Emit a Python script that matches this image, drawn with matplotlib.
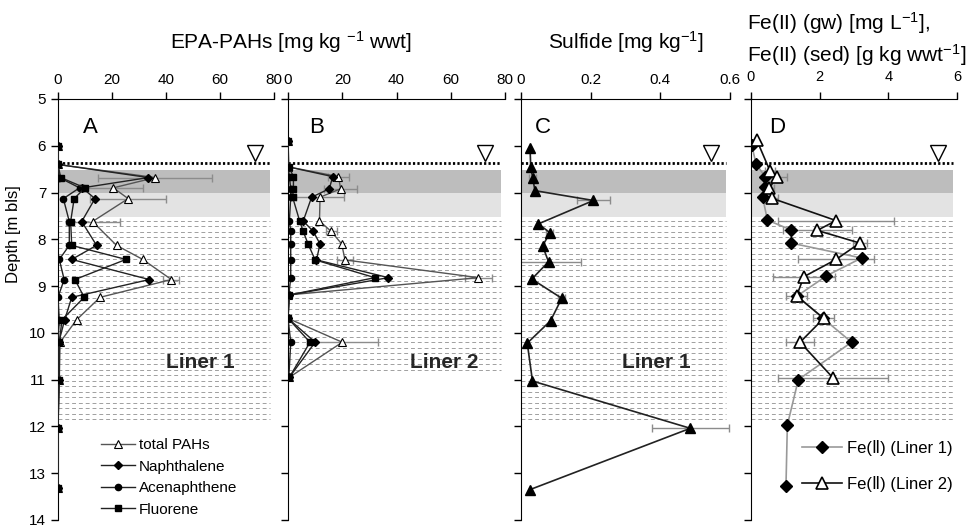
import numpy as np
import matplotlib.pyplot as plt

plt.rcParams['font.family'] = ['Liberation Sans', 'DejaVu Sans']
plt.rcParams['mathtext.default'] = 'regular'

# ---- Panel A: EPA-PAHs, Liner 1 [mg kg-1 wwt] ----
depth_a = [6.0, 6.4, 6.68, 6.9, 7.13, 7.62, 8.13, 8.43, 8.86, 9.24, 9.72, 10.2, 11.0, 12.03, 13.32]
total_a = [0, 0, 36, 20.5, 26, 12.8, 21.7, 31.4, 42, 15.6, 6.9, 0.8, 0.5, 0, 0]
total_a_err = [0, 0, 21, 11, 14, 10, 0, 0, 3, 0, 0, 0, 0, 0, 0]
naph_a = [0, 0, 33.5, 9, 13.7, 8.8, 14.3, 5.1, 33.8, 5.1, 2.5, 0.3, 0.3, 0, 0]
acen_a = [0, 0, 0.5, 8, 2, 4.2, 4.2, 0.5, 2.3, 0, 0.5, 0, 0, 0, 0]
fluo_a = [0, 0, 1, 10, 6, 4.7, 5.1, 25.2, 6.3, 9.7, 1.5, 0.5, 0.5, 0, 0]

# ---- Panel B: EPA-PAHs, Liner 2 ----
depth_b = [5.9, 6.45, 6.66, 6.92, 7.1, 7.61, 7.83, 8.1, 8.44, 8.82, 9.19, 9.69, 10.2, 10.95]
total_b = [0, 0, 18.6, 19.4, 11.8, 11.6, 15.9, 19.8, 21, 70.2, 0, 0, 20, 0.5]
total_b_err = [0, 0, 4, 6, 9, 0, 2, 0, 3, 5, 0, 0, 13, 0]
naph_b = [0, 0, 16.5, 15.2, 8.7, 5.6, 9.3, 11.8, 10.5, 37, 0.5, 0, 10, 0.5]
acen_b = [0, 0, 0.5, 1, 1, 0.5, 1, 1, 1, 1, 0.3, 0, 1, 0.3]
fluo_b = [0, 0.3, 2, 2, 1.7, 4.3, 5.6, 7.4, 10, 32, 0.5, 0, 8.1, 0.5]

# ---- Panel C: sulfide, Liner 1 [mg kg-1] ----
depth_c = [6.05, 6.46, 6.7, 6.96, 7.17, 7.67, 7.86, 8.14, 8.48, 8.85, 9.26, 9.74, 10.22, 11.03, 12.04, 13.35]
sulfide = [0.026, 0.028, 0.034, 0.04, 0.208, 0.05, 0.083, 0.062, 0.079, 0.031, 0.117, 0.085, 0.018, 0.033, 0.486, 0.026]
sulfide_err = [0, 0, 0.01, 0, 0.047, 0, 0.01, 0, 0.093, 0, 0.01, 0, 0, 0, 0.11, 0]

# ---- Panel D: Fe(II) ----
depth_d1 = [5.98, 6.39, 6.66, 6.89, 7.1, 7.59, 7.8, 8.08, 8.4, 8.78, 9.21, 9.69, 10.2, 11.0, 11.97, 13.27]
fe_liner1 = [0.02, 0.15, 0.41, 0.41, 0.34, 0.48, 1.17, 1.17, 3.22, 2.2, 1.35, 2.1, 2.93, 1.38, 1.06, 1.02]
depth_d2 = [5.88, 6.53, 6.67, 6.91, 7.12, 7.6, 7.81, 8.08, 8.43, 8.8, 9.21, 9.69, 10.2, 10.97]
fe_liner2 = [0.17, 0.55, 0.75, 0.53, 0.6, 2.48, 1.93, 3.17, 2.48, 1.54, 1.33, 2.12, 1.43, 2.4]
fe_liner2_err = [0, 0.15, 0.3, 0.15, 0.2, 1.7, 1.0, 0.2, 1.1, 0.9, 0.3, 0.3, 0.4, 1.6]

pah_labels = ['total PAHs', 'Naphthalene', 'Acenaphthene', 'Fluorene']
fe_labels = ['Fe(Ⅱ) (Liner 1)', 'Fe(Ⅱ) (Liner 2)']


def setup(ax, xmax, xticks, hatch_bottom):
    ax.set_xlim(0, xmax)
    ax.set_ylim(14, 5)
    ax.xaxis.tick_top()
    ax.set_xticks(xticks)
    ax.set_yticks(range(5, 15))
    ax.spines['right'].set_visible(False)
    ax.spines['bottom'].set_visible(False)
    ax.tick_params(direction='out', length=5, width=1, labelsize=11)
    # lithology / zones
    ax.axhspan(6.52, 7.0, xmin=0, xmax=0.98, color='#bdbdbd', lw=0, zorder=0)
    ax.axhspan(7.0, 7.52, xmin=0, xmax=0.98, color='#e3e3e3', lw=0, zorder=0)
    for y in np.arange(7.6, hatch_bottom, 0.118):
        ax.axhline(y, xmin=0, xmax=0.98, color='#a0a0a0', lw=0.7, ls=(0, (4, 3)), zorder=0)
    # groundwater table
    ax.axhline(6.36, xmin=0, xmax=0.98, color='black', lw=2, ls=(0, (0.8, 0.8)), zorder=1)
    ax.plot([xmax * 0.91], [6.15], marker='v', ms=11, mfc='white', mec='black',
            mew=1, ls='none', zorder=3)


def errbars(ax, x, y, err):
    x, y, err = np.array(x), np.array(y), np.array(err)
    m = err > 0
    ax.errorbar(x[m], y[m], xerr=err[m], fmt='none', ecolor='#8c8c8c',
                elinewidth=1, capsize=3, capthick=1, zorder=2)


def pah_panel(ax, depth, tot, tot_err, naph, acen, fluo):
    errbars(ax, tot, depth, tot_err)
    h1, = ax.plot(tot, depth, color='#555555', lw=1, marker='^', ms=6,
                  mfc='white', mec='black', mew=0.8, zorder=4)
    h2, = ax.plot(naph, depth, color='#222222', lw=1, marker='D', ms=4.5,
                  mfc='black', mec='black', zorder=4)
    h3, = ax.plot(acen, depth, color='#222222', lw=1, marker='o', ms=4.5,
                  mfc='black', mec='black', zorder=4)
    h4, = ax.plot(fluo, depth, color='#222222', lw=1, marker='s', ms=5,
                  mfc='black', mec='black', zorder=4)
    return [h1, h2, h3, h4]


fig = plt.figure(figsize=(9.74, 5.27), dpi=100)
bottom, height = 0.0133, 0.7989
axA = fig.add_axes([0.0595, bottom, 0.2218, height])
axB = fig.add_axes([0.2957, bottom, 0.2228, height])
axC = fig.add_axes([0.5349, bottom, 0.2146, height])
axD = fig.add_axes([0.7710, bottom, 0.2115, height])

setup(axA, 80, [0, 20, 40, 60, 80], 11.9)
setup(axB, 80, [0, 20, 40, 60, 80], 10.85)
setup(axC, 0.6, [0, 0.2, 0.4, 0.6], 11.9)
setup(axD, 6, [0, 2, 4, 6], 11.9)
axC.set_xticklabels(['0', '0.2', '0.4', '0.6'])
axD.tick_params(axis='x', pad=6, labelsize=10.5)
for ax in (axB, axC, axD):
    ax.tick_params(axis='y', labelleft=False)

# A
handles = pah_panel(axA, depth_a, total_a, total_a_err, naph_a, acen_a, fluo_a)
axA.legend(handles, pah_labels, loc='upper left', bbox_to_anchor=(0.2, 0.195),
           frameon=False, fontsize=11, handlelength=2.2, handletextpad=0.25,
           labelspacing=0.5, borderpad=0, borderaxespad=0)
axA.set_ylabel('Depth [m bls]', fontsize=12)
axA.yaxis.set_label_coords(-0.17, 0.68)

# B
pah_panel(axB, depth_b, total_b, total_b_err, naph_b, acen_b, fluo_b)

# C
errbars(axC, sulfide, depth_c, sulfide_err)
axC.plot(sulfide, depth_c, color='#222222', lw=1.2, marker='^', ms=7,
         mfc='black', mec='black', zorder=4)

# D
errbars(axD, fe_liner2, depth_d2, fe_liner2_err)
hd1, = axD.plot(fe_liner1, depth_d1, color='#999999', lw=1.2, marker='D', ms=6.5,
                mfc='black', mec='black', zorder=4)
hd2, = axD.plot(fe_liner2, depth_d2, color='#111111', lw=1.2, marker='^', ms=9,
                mfc='white', mec='black', mew=1.2, zorder=5)
axD.legend([hd1, hd2], fe_labels, loc='upper left', bbox_to_anchor=(0.25, 0.19),
           frameon=False, fontsize=12, handlelength=2.4, handletextpad=0.3,
           labelspacing=1.2, borderpad=0, borderaxespad=0)

# panel letters and liner labels
for ax, letter, xf in [(axA, 'A', 0.148), (axB, 'B', 0.13), (axC, 'C', 0.105), (axD, 'D', 0.126)]:
    ax.text(xf, 5.62, letter, transform=ax.get_yaxis_transform(), fontsize=16,
            ha='center', va='center')
for ax, txt, xf in [(axA, 'Liner 1', 0.66), (axB, 'Liner 2', 0.72), (axC, 'Liner 1', 0.646)]:
    ax.text(xf, 10.63, txt, transform=ax.get_yaxis_transform(), fontsize=15,
            fontweight='bold', color='#262626', ha='center', va='center', zorder=6)

# axis titles
fig.text(0.299, 0.92, 'EPA-PAHs [mg kg $^{-1}$ wwt]', fontsize=15, ha='center', va='center')
fig.text(0.643, 0.92, 'Sulfide [mg kg$^{-1}$]', fontsize=15, ha='center', va='center')
fig.text(0.767, 0.956, 'Fe(II) (gw) [mg L$^{-1}$],', fontsize=15, ha='left', va='center')
fig.text(0.767, 0.896, 'Fe(II) (sed) [g kg wwt$^{-1}$]', fontsize=15, ha='left', va='center')

fig.savefig('out.png', dpi=100)
